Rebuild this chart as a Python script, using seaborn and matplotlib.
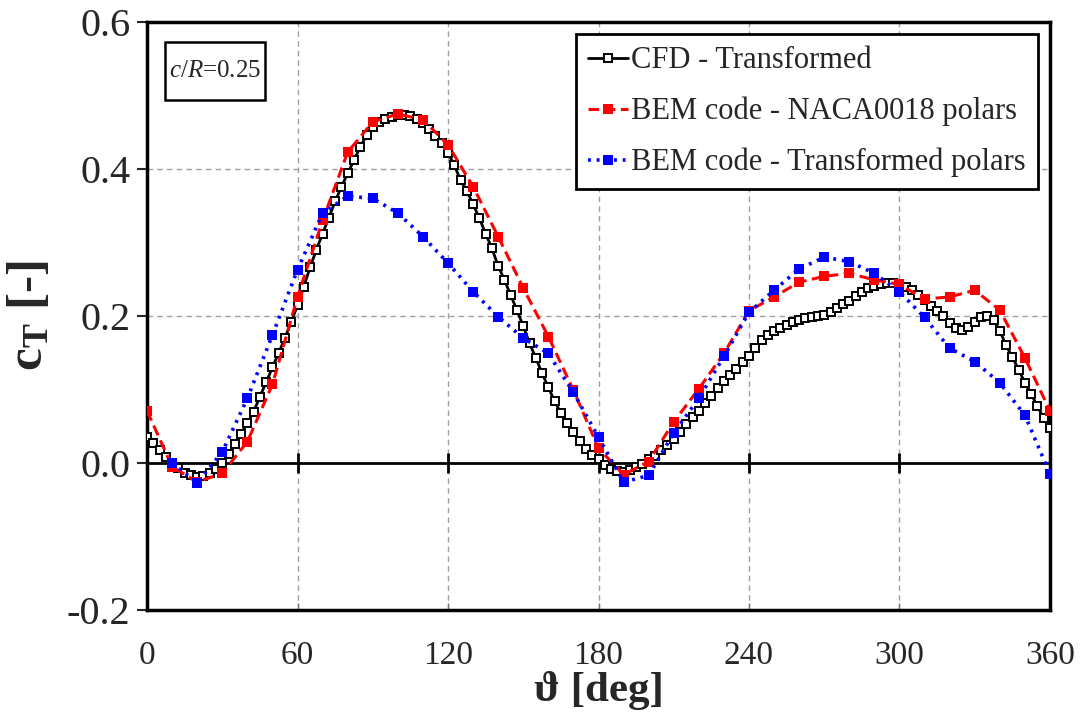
import numpy as np
import pandas as pd
import matplotlib
matplotlib.use("Agg")
import matplotlib.pyplot as plt
from matplotlib.patches import Rectangle
import seaborn as sns

# ---------------- data ----------------
theta_cfd = np.arange(0, 360.1, 2.5)
ct_cfd = [0.036, 0.027, 0.018, 0.008, 0.000, -0.007, -0.013, -0.017, -0.019, -0.018,
          -0.014, -0.008, 0.000, 0.012, 0.026, 0.040, 0.054, 0.070, 0.090, 0.110,
          0.130, 0.150, 0.170, 0.192, 0.215, 0.240, 0.266, 0.290, 0.312, 0.334,
          0.356, 0.376, 0.394, 0.412, 0.430, 0.446, 0.457, 0.464, 0.468, 0.471,
          0.473, 0.473, 0.472, 0.468, 0.462, 0.454, 0.445, 0.435, 0.422, 0.405,
          0.385, 0.370, 0.352, 0.333, 0.312, 0.292, 0.268, 0.249, 0.228, 0.208,
          0.186, 0.163, 0.143, 0.122, 0.103, 0.084, 0.068, 0.054, 0.042, 0.030,
          0.019, 0.011, 0.005, -0.003, -0.008, -0.011, -0.012, -0.009, -0.006, -0.001,
          0.005, 0.010, 0.018, 0.024, 0.033, 0.042, 0.053, 0.062, 0.071, 0.081,
          0.091, 0.102, 0.112, 0.120, 0.128, 0.137, 0.145, 0.156, 0.167, 0.174,
          0.180, 0.184, 0.188, 0.192, 0.195, 0.197, 0.199, 0.200, 0.202, 0.206,
          0.211, 0.217, 0.221, 0.227, 0.233, 0.238, 0.241, 0.244, 0.245, 0.245,
          0.243, 0.239, 0.235, 0.229, 0.222, 0.214, 0.207, 0.200, 0.191, 0.184,
          0.181, 0.185, 0.192, 0.198, 0.200, 0.194, 0.180, 0.160, 0.144, 0.127,
          0.109, 0.094, 0.077, 0.061, 0.048]

theta_naca = np.arange(0, 361, 10)
ct_naca = [0.071, -0.005, -0.026, -0.014, 0.029, 0.107, 0.226, 0.330, 0.423, 0.464,
           0.475, 0.467, 0.433, 0.376, 0.308, 0.238, 0.172, 0.099, 0.020, -0.016,
           0.002, 0.056, 0.101, 0.149, 0.207, 0.226, 0.246, 0.254, 0.258, 0.249,
           0.243, 0.223, 0.226, 0.235, 0.208, 0.143, 0.071]

theta_trans = np.arange(10, 361, 10)
ct_trans = [0.000, -0.027, 0.015, 0.088, 0.174, 0.263, 0.340, 0.363, 0.360, 0.340,
            0.308, 0.272, 0.233, 0.199, 0.170, 0.149, 0.096, 0.035, -0.026, -0.017,
            0.041, 0.088, 0.145, 0.205, 0.235, 0.264, 0.280, 0.274, 0.258, 0.233,
            0.198, 0.156, 0.138, 0.109, 0.065, -0.015]

labels = ["CFD - Transformed", "BEM code - NACA0018 polars", "BEM code - Transformed polars"]
xticks = [0, 60, 120, 180, 240, 300, 360]
yticks = [-0.2, 0.0, 0.2, 0.4, 0.6]

# ---------------- style ----------------
sns.set_style("white")
plt.rcParams['font.family'] = ['Liberation Serif', 'DejaVu Serif']
plt.rcParams['mathtext.fontset'] = 'custom'
plt.rcParams['mathtext.rm'] = 'Liberation Serif'
plt.rcParams['mathtext.it'] = 'Liberation Serif:italic'
plt.rcParams['mathtext.bf'] = 'Liberation Serif:bold'

fig = plt.figure(figsize=(10.82, 7.15), dpi=100)
ax = fig.add_axes([0.1359, 0.1469, 0.9704 - 0.1359, 0.9692 - 0.1469])

# grid
for xv in xticks[1:-1]:
    ax.axvline(xv, color='#a0a0a0', lw=1.0, ls=(0, (4, 3)), zorder=0)
for yv in [0.2, 0.4]:
    ax.axhline(yv, color='#a0a0a0', lw=1.0, ls=(0, (4, 3)), zorder=0)
ax.axhline(0.0, color='black', lw=2.0, zorder=1)
ax.vlines(xticks[1:-1], -0.013, 0.013, color='black', lw=2.0, zorder=1)

sns.lineplot(x=theta_cfd, y=ct_cfd, ax=ax, color='black', lw=2.0, linestyle='-',
             marker='s', markersize=5.2, markerfacecolor='white', markeredgecolor='black',
             markeredgewidth=1.4, label=labels[0], zorder=3)
sns.lineplot(x=theta_naca, y=ct_naca, ax=ax, color='#ff0000', lw=2.2, linestyle=(0, (3.5, 1.8)),
             marker='s', markersize=6.5, markerfacecolor='#ff0000', markeredgecolor='#ff0000',
             markeredgewidth=0, label=labels[1], zorder=4)
sns.lineplot(x=theta_trans, y=ct_trans, ax=ax, color='#0000ff', lw=2.6, linestyle=(0, (0.8, 1.6)),
             marker='s', markersize=7, markerfacecolor='#0000ff', markeredgecolor='#0000ff',
             markeredgewidth=0, label=labels[2], zorder=5)

ax.set_xlim(0, 360)
ax.set_ylim(-0.2, 0.6)
ax.set_xticks(xticks)
ax.set_yticks(yticks)
ax.set_xticklabels([str(v) for v in xticks], fontsize=24)
ax.set_yticklabels([f"{v:.1f}" for v in yticks], fontsize=29)
ax.tick_params(axis='y', direction='out', length=7, width=1.5, pad=5, left=True)
ax.tick_params(axis='x', direction='in', length=5, width=1.0, pad=22, bottom=True, color='#777777')

for s in ax.spines.values():
    s.set_visible(True)
    s.set_color('black')
    s.set_linewidth(2.5)

ax.set_xlabel("ϑ [deg]", fontsize=31, fontweight='bold', labelpad=0)
ax.set_ylabel(r"$\mathbf{c_T}$ [-]", fontsize=37, fontweight='bold', labelpad=10)

leg = ax.legend(loc='upper right', fontsize=22, frameon=True, fancybox=False,
                edgecolor='black', framealpha=1, handlelength=1.3, handletextpad=0.1,
                borderpad=0.4, labelspacing=0.7, borderaxespad=0.4)
leg.get_frame().set_linewidth(2.0)

ax.add_patch(Rectangle((0.0199, 0.867), 0.1108, 0.099, transform=ax.transAxes,
                       facecolor='white', edgecolor='black', lw=1.8, zorder=6))
ax.text(0.0753, 0.9167, r"$c/R$=0.25", transform=ax.transAxes, fontsize=18,
        ha='center', va='center', zorder=7)

fig.savefig("out.png", dpi=100)
